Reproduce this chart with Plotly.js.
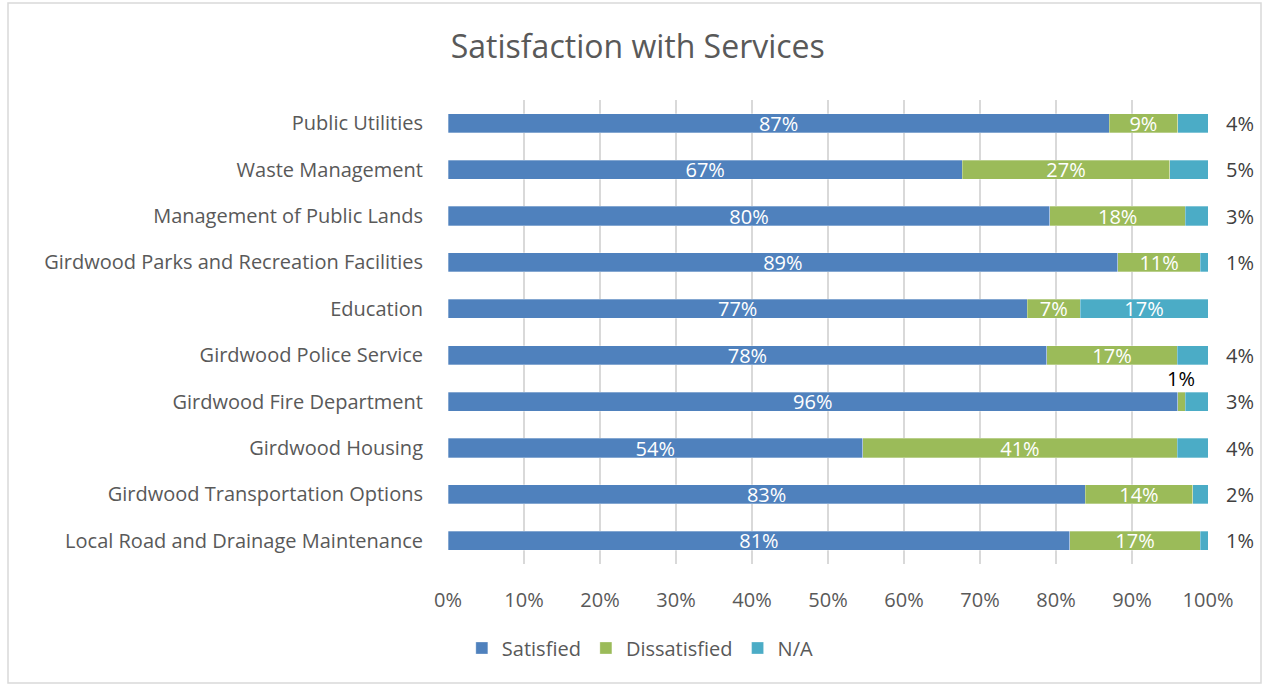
<!DOCTYPE html>
<html><head><meta charset="utf-8">
<script src="https://cdn.plot.ly/plotly-3.0.1.min.js"></script>
<style>html,body{margin:0;padding:0;background:#fff}#chart{width:1268px;height:688px}</style>
</head><body><div id="chart"></div>
<script>
const categories = ["Public Utilities","Waste Management","Management of Public Lands","Girdwood Parks and Recreation Facilities","Education","Girdwood Police Service","Girdwood Fire Department","Girdwood Housing","Girdwood Transportation Options","Local Road and Drainage Maintenance"];
const satisfied    = [87,67,80,89,77,78,96,54,83,81];
const dissatisfied = [9,27,18,11,7,17,1,41,14,17];
const notApplicable= [4,5,3,1,17,4,3,4,2,1];
const seriesNames = ["Satisfied","Dissatisfied","N/A"];
const tickValues = [0,10,20,30,40,50,60,70,80,90,100];
const tickLabels = ["0%","10%","20%","30%","40%","50%","60%","70%","80%","90%","100%"];
const colors = ["#4F81BD","#9BBB59","#4BACC6"];

const W=1268,H=688, mL=448, mR=60, mT=100, mB=124;
const pw=W-mL-mR, ph=H-mT-mB;
const fontFam = "'Open Sans', sans-serif";
const grey = "#595959";
const fs = 20;

const disText = dissatisfied.map(v=> v>=5? v+"%" : "");
const naText  = notApplicable.map(v=> v>=10? v+"%" : "");

function bar(name, vals, text, color){
  return {type:'bar', orientation:'h', name:name, y:categories, x:vals,
    text:text, textposition:'inside', insidetextanchor:'middle', textangle:0,
    constraintext:'none', textfont:{color:'#ffffff', size:fs, family:fontFam},
    marker:{color:color, line:{color:'rgba(255,255,255,0.5)', width:0.6}},
    hoverinfo:'x+y+name'};
}
const data = [
  bar(seriesNames[0], satisfied, satisfied.map(v=>v+"%"), colors[0]),
  bar(seriesNames[1], dissatisfied, disText, colors[1]),
  bar(seriesNames[2], notApplicable, naText, colors[2])
];

const annotations = [];
categories.forEach((c,i)=>{
  const tot = satisfied[i]+dissatisfied[i]+notApplicable[i];
  if(naText[i]===""){
    annotations.push({x:100, y:c, xref:'x', yref:'y', text:notApplicable[i]+"%", showarrow:false,
      xanchor:'left', xshift:16, font:{size:fs, color:'#404040', family:fontFam}});
  }
  if(disText[i]===""){
    const mid = (satisfied[i]+dissatisfied[i]/2)/tot*100;
    annotations.push({x:mid, y:c, xref:'x', yref:'y', text:dissatisfied[i]+"%", showarrow:false,
      xanchor:'center', yanchor:'bottom', yshift:8, font:{size:fs, color:'#000000', family:fontFam}});
  }
});

const px2x = (p)=> (p-mL)/pw, px2y=(p)=> (H-mB-p)/ph;
const layout = {
  width:W, height:H, margin:{l:mL, r:mR, t:mT, b:mB},
  paper_bgcolor:'#fff', plot_bgcolor:'#fff',
  barmode:'stack', barnorm:'percent', bargap:0.59,
  font:{family:fontFam, color:grey, size:fs},
  title:{text:"Satisfaction with Services", x:0.503, xref:'container', xanchor:'center', y:1-47/H, yref:'container', yanchor:'middle', font:{size:32, color:grey, family:fontFam}},
  xaxis:{range:[0,100], tickmode:'array', tickvals:tickValues, ticktext:tickLabels, showgrid:true, gridcolor:'#d9d9d9', gridwidth:1.5, zeroline:false, showline:false,
    ticks:'outside', ticklen:18, tickcolor:'rgba(0,0,0,0)', tickfont:{size:fs, color:grey}, fixedrange:true},
  yaxis:{autorange:'reversed', showgrid:false, zeroline:false, showline:false, ticks:'outside', ticklen:20, tickcolor:'rgba(0,0,0,0)', tickfont:{size:fs, color:grey}},
  legend:{orientation:'h', x:0.505, xref:'container', xanchor:'center', y:1-648/H, yref:'container', yanchor:'middle', font:{size:fs, color:grey}, itemwidth:30, traceorder:'normal'},
  annotations:annotations,
  shapes:[{type:'rect', xref:'paper', yref:'paper', x0:px2x(8), x1:px2x(1261), y0:px2y(683), y1:px2y(3), line:{color:'#d9d9d9', width:1.5}, layer:'below'}],
  showlegend:true
};
Plotly.newPlot('chart', data, layout, {displayModeBar:false, staticPlot:true});
</script></body></html>
